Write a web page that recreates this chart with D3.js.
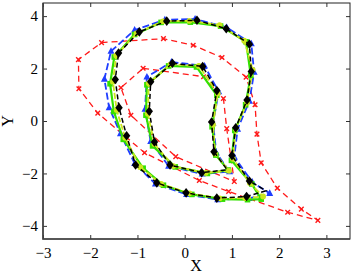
<!DOCTYPE html>
<html>
<head>
<meta charset="utf-8">
<script src="https://cdn.jsdelivr.net/npm/d3@7"></script>
<style>
  body { margin: 0; background: #fff; }
  svg { display: block; }
  text { font-family: "Liberation Serif", "DejaVu Serif", serif; }
</style>
</head>
<body>
<svg width="353" height="276"></svg>
<script>
var xTicks = [-3, -2, -1, 0, 1, 2, 3];
var yTicks = [-4, -2, 0, 2, 4];

// each loop is a list of [x, y]; a third value 0 marks a vertex drawn without marker
var redOuter = [[-1.76, 2.99], [-0.45, 3.14], [0.18, 2.89], [0.79, 2.42], [1.30, 1.67], [1.49, 0.62],
    [1.53, -0.50], [1.62, -1.59], [1.96, -2.56], [2.47, -3.36], [2.82, -3.79], [2.18, -3.48],
    [0.93, -2.69], [0.31, -2.27], [-0.85, -1.21], [-1.84, 0.30], [-2.24, 1.23], [-2.25, 2.34]];
var redInner = [[-0.88, 2.01], [0.40, 1.69], [0.82, 0.86], [0.89, -0.29], [1.05, -2.31],
    [-0.19, -1.36], [-1.14, 0.22], [-1.35, 1.27]];

var blueOuter = [[-1.56, 2.66], [-1.06, 3.47], [-0.42, 3.86], [0.22, 3.89], [0.89, 3.57], [1.41, 2.95],
    [1.47, 1.86], [1.37, 0.76], [1.12, -0.31], [1.05, -1.37], [1.43, -2.33], [1.80, -2.76],
    [1.36, -2.95], [0.70, -3.00], [0.04, -2.80], [-0.62, -2.40], [-1.06, -1.62], [-1.36, -0.48],
    [-1.60, 0.51], [-1.70, 1.60]];
var blueInner = [[-0.28, 2.25], [0.42, 2.10], [0.72, 1.12], [0.60, -0.08], [0.67, -1.22], [0.95, -1.93],
    [0.37, -2.02], [-0.34, -1.72], [-0.72, -0.78], [-0.84, 0.45], [-0.80, 1.68]];

var greenOuter = [[-1.49, 2.44], [-1.06, 3.30], [-0.50, 3.76], [0.12, 3.77], [0.76, 3.62], [1.30, 3.02],
    [1.40, 1.74], [1.29, 0.62], [1.06, -0.36], [0.99, -1.50], [1.42, -2.40], [1.62, -2.98],
    [1.33, -3.00], [0.80, -2.98], [0.15, -2.80], [-0.45, -2.45], [-0.88, -1.80], [-1.30, -0.70],
    [-1.50, 0.36], [-1.58, 1.42]];
var greenInner = [[-0.34, 2.10], [0.25, 2.06], [0.68, 0.98], [0.58, -0.22], [0.66, -1.30], [0.92, -1.87],
    [0.48, -2.00], [-0.20, -1.75], [-0.68, -0.95], [-0.82, 0.22], [-0.80, 1.38]];

var yellowOuter = [[-1.45, 2.50], [-1.02, 3.34], [-0.46, 3.80], [0.10, 3.82], [0.74, 3.66], [1.26, 3.06],
    [1.44, 1.95], [1.32, 0.70], [1.08, -0.30], [1.02, -1.44], [1.38, -2.36], [1.66, -2.88],
    [1.28, -2.94], [0.74, -2.95], [0.10, -2.76], [-0.50, -2.40], [-0.94, -1.76], [-1.26, -0.64],
    [-1.44, 0.42], [-1.52, 1.50]];
var yellowInner = [[-0.30, 2.16], [0.30, 2.10], [0.70, 1.06], [0.60, -0.14], [0.64, -1.24], [0.94, -1.90],
    [0.44, -1.98], [-0.24, -1.72], [-0.64, -0.88], [-0.78, 0.28], [-0.76, 1.44]];

var blackOuter = [[-1.40, 2.59], [-0.96, 3.40], [-0.38, 3.81], [0.26, 3.84], [0.88, 3.52], [1.37, 2.93],
    [1.41, 1.89], [1.32, 0.80], [1.08, -0.26], [1.00, -1.32], [1.37, -2.29], [1.72, -2.66, 0],
    [1.31, -2.88], [0.68, -2.94], [0.03, -2.74], [-0.59, -2.36], [-1.04, -1.68], [-1.23, -0.56],
    [-1.39, 0.51], [-1.47, 1.58]];
var blackInner = [[-0.26, 2.20], [0.38, 2.08], [0.68, 1.16], [0.57, -0.04], [0.62, -1.17], [0.90, -1.86, 0],
    [0.36, -1.97], [-0.31, -1.68], [-0.64, -0.80], [-0.75, 0.37], [-0.72, 1.50]];

var series = [
    { loops: [redOuter, redInner], color: '#ff1a1a', dash: '6,4', width: 1.3, marker: 'x' },
    { loops: [blueOuter, blueInner], color: '#1f3dff', dash: '7,3', width: 1.8, marker: 'triangle' },
    { loops: [greenOuter, greenInner], color: '#33e000', dash: null, width: 2.2, marker: 'square' },
    { loops: [yellowOuter, yellowInner], color: '#cbe61e', dash: '6,2', width: 1.8, marker: 'circle' },
    { loops: [blackOuter, blackInner], color: '#000000', dash: '5,3', width: 1.5, marker: 'diamond' }
];

var svg = d3.select('svg');
var padL = 43, padR = 350, padT = 3, padB = 239;

var x = d3.scaleLinear().domain([-3, 3.5]).range([padL, padR]);
var y = d3.scaleLinear().domain([-4.5, 4.5]).range([padB, padT]);

var line = d3.line()
    .x(d => x(d[0]))
    .y(d => y(d[1]))
    .curve(d3.curveLinearClosed);

var plot = svg.append('g');

series.forEach(s => {
    s.loops.forEach(loop => {
        plot.append('path')
            .attr('d', line(loop))
            .attr('fill', 'none')
            .attr('stroke', s.color)
            .attr('stroke-width', s.width)
            .attr('stroke-dasharray', s.dash);
    });

    var pts = [].concat(...s.loops).filter(d => d[2] !== 0);
    var g = plot.append('g');
    pts.forEach(d => {
        var px = x(d[0]), py = y(d[1]);
        if (s.marker === 'x') {
            g.append('path')
                .attr('d', `M${px - 2.3},${py - 2.3}L${px + 2.3},${py + 2.3}M${px - 2.3},${py + 2.3}L${px + 2.3},${py - 2.3}`)
                .attr('stroke', s.color)
                .attr('stroke-width', 1.4);
        } else if (s.marker === 'triangle') {
            g.append('path')
                .attr('d', `M${px},${py - 4}L${px + 3.5},${py + 2.6}L${px - 3.5},${py + 2.6}Z`)
                .attr('fill', s.color);
        } else if (s.marker === 'square') {
            g.append('rect')
                .attr('x', px - 2.8).attr('y', py - 2.8)
                .attr('width', 5.6).attr('height', 5.6)
                .attr('fill', s.color);
        } else if (s.marker === 'circle') {
            g.append('circle')
                .attr('cx', px).attr('cy', py).attr('r', 2.9)
                .attr('fill', s.color);
        } else {
            g.append('path')
                .attr('d', `M${px},${py - 4.8}L${px + 3.7},${py}L${px},${py + 4.8}L${px - 3.7},${py}Z`)
                .attr('fill', s.color);
        }
    });
});

// box with inward ticks on all sides
var fmt = d3.format('');
svg.append('g')
    .attr('transform', `translate(0,${padB})`)
    .call(d3.axisBottom(x).tickValues(xTicks).tickSize(-4).tickPadding(8).tickFormat(fmt));
svg.append('g')
    .attr('transform', `translate(0,${padT})`)
    .call(d3.axisTop(x).tickValues(xTicks).tickSize(-4).tickFormat(''));
svg.append('g')
    .attr('transform', `translate(${padL},0)`)
    .call(d3.axisLeft(y).tickValues(yTicks).tickSize(-4).tickPadding(5).tickFormat(fmt));
svg.append('g')
    .attr('transform', `translate(${padR},0)`)
    .call(d3.axisRight(y).tickValues(yTicks).tickSize(-4).tickFormat(''));

svg.selectAll('.domain').remove();
svg.selectAll('.tick line').attr('stroke', '#333');
svg.selectAll('.tick text')
    .attr('fill', '#000')
    .style('font-size', '15px')
    .style('font-family', '"Liberation Serif", serif');

svg.append('rect')
    .attr('x', padL).attr('y', padT)
    .attr('width', padR - padL).attr('height', padB - padT)
    .attr('fill', 'none')
    .attr('stroke', '#222')
    .attr('stroke-width', 1);
svg.append('path')
    .attr('d', `M${padL},${padT}V${padB}H${padR}`)
    .attr('fill', 'none')
    .attr('stroke', '#444')
    .attr('stroke-width', 1.6);

svg.append('text')
    .attr('x', 196).attr('y', 271)
    .attr('text-anchor', 'middle')
    .style('font-size', '16px')
    .text('X');
svg.append('text')
    .attr('transform', 'translate(13,121) rotate(-90)')
    .attr('text-anchor', 'middle')
    .style('font-size', '16px')
    .text('Y');
</script>
</body>
</html>
